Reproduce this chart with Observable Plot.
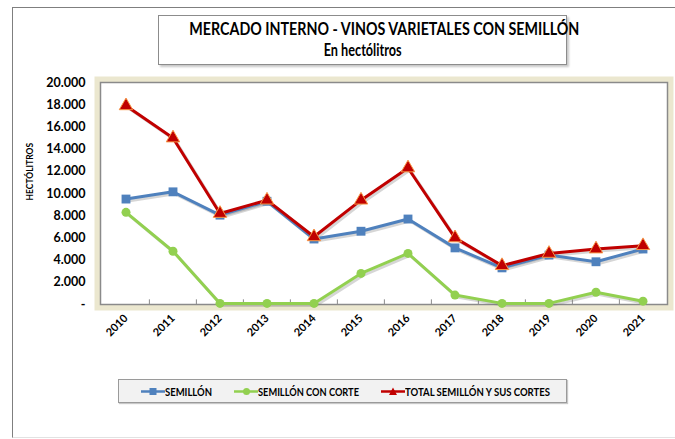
<!DOCTYPE html>
<html><head><meta charset="utf-8">
<script src="https://cdn.jsdelivr.net/npm/d3@7"></script>
<script src="https://cdn.jsdelivr.net/npm/@observablehq/plot@0.6"></script>
<style>
body{margin:0;background:#fff;}
#wrap{position:relative;width:675px;height:439px;overflow:hidden;font-family:Lato, "Open Sans", sans-serif;color:#000;}
#frame{position:absolute;left:12px;top:7px;width:663px;height:429px;border-left:1px solid #7f7f7f;border-top:1px solid #7f7f7f;border-bottom:1px solid #e2e2e2;}
#chart{position:absolute;left:0;top:0;}
#title{position:absolute;left:158px;top:15px;width:407px;height:48px;border:1px solid #8c8c8c;box-shadow:2px 2px 2px #c8c8c8;background:#fff;text-align:center;font-weight:bold;font-size:16.5px;}
.tl{position:absolute;left:0;width:100%;text-align:center;white-space:nowrap;}
.tl span{display:inline-block;transform-origin:center;}
#legend{position:absolute;left:118px;top:379px;width:447px;height:22px;border:1px solid #9a9a9a;background:#f2f2f2;box-shadow:1px 1px 1px #c8c8c8;font-size:12px;font-weight:bold;}
.item{position:absolute;top:0;height:22px;display:flex;align-items:center;white-space:nowrap;}
.item span{display:inline-block;transform-origin:left center;}
</style></head><body>
<div id="wrap">
  <div id="frame"></div>
  <div id="chart"></div>
  <div id="title"></div>
  <div id="legend"></div>
</div>
<script>
const years = ["2010","2011","2012","2013","2014","2015","2016","2017","2018","2019","2020","2021"];
const semillon = [9500, 10150, 8050, 9300, 5900, 6600, 7700, 5100, 3300, 4450, 3850, 5000];
const conCorte = [8300, 4800, 100, 100, 100, 2800, 4600, 850, 100, 100, 1100, 300];
const total = [17900, 15000, 8200, 9400, 6100, 9400, 12300, 6000, 3500, 4600, 5000, 5300];
const yTicks = [0, 2000, 4000, 6000, 8000, 10000, 12000, 14000, 16000, 18000, 20000];
const seriesNames = ["SEMILLÓN", "SEMILLÓN CON CORTE", "TOTAL SEMILLÓN Y SUS CORTES"];
const seriesColors = ["#4F81BD", "#92D050", "#C00000"];
const titleLines = ["MERCADO INTERNO - VINOS VARIETALES CON SEMILLÓN", "En hectólitros"];
const yLabel = "HECTÓLITROS";

const W = 675, H = 439, mL = 100, mR = 8, mT = 82, mB = 135;
const bw = (W - mL - mR) / years.length;
const fmt = d => d === 0 ? "-" : d3.format(",")(d).replace(/,/g, ".");

const rows = (vals) => years.map((y, i) => ({year: y, value: vals[i]}));
const sData = [rows(semillon), rows(conCorte), rows(total)];

const lineMarks = [];
for (const k of [1, 0, 2]) {
  lineMarks.push(Plot.line(sData[k], {x: "year", y: "value", stroke: "#777", strokeOpacity: 0.3, strokeWidth: 3, dx: 2, dy: 2}));
}
lineMarks.push(Plot.line(sData[1], {x: "year", y: "value", stroke: seriesColors[1], strokeWidth: 3}));
lineMarks.push(Plot.dot(sData[1], {x: "year", y: "value", fill: seriesColors[1], r: 4.5}));
lineMarks.push(Plot.line(sData[0], {x: "year", y: "value", stroke: seriesColors[0], strokeWidth: 3}));
lineMarks.push(Plot.dot(sData[0], {x: "year", y: "value", fill: seriesColors[0], symbol: "square", r: 5}));
lineMarks.push(Plot.line(sData[2], {x: "year", y: "value", stroke: seriesColors[2], strokeWidth: 3}));
lineMarks.push(Plot.dot(sData[2], {x: "year", y: "value", fill: seriesColors[2], stroke: "#F79646", strokeWidth: 1, symbol: "triangle", r: 5}));

const chart = Plot.plot({
  width: W, height: H,
  marginLeft: mL, marginRight: mR, marginTop: mT, marginBottom: mB,
  style: {fontFamily: "Lato, 'Open Sans', sans-serif", background: "transparent", overflow: "visible", color: "#000"},
  x: {type: "band", domain: years, padding: 0, label: null},
  y: {domain: [0, 20000], label: null},
  marks: [
    Plot.frame({inset: -3, stroke: "#ebe7cf", strokeWidth: 6}),
    Plot.frame({fill: "white", stroke: "#8a8a8a", strokeWidth: 1.5}),
    Plot.ruleX(years.slice(1), {y1: 0, y2: 420, dx: -bw / 2, stroke: "#8a8a8a", strokeWidth: 1}),
    Plot.axisY({ticks: yTicks, tickSize: 0, tickPadding: 15, tickFormat: fmt, fontWeight: "bold", fontSize: 12.5, fill: "#000"}),
    Plot.axisX({tickSize: 0, tickRotate: -45, tickPadding: 12, fontWeight: "bold", fontSize: 11, fill: "#000"}),
    Plot.text([yLabel], {frameAnchor: "left", dx: -70, dy: 7, rotate: -90, fontWeight: "bold", fontSize: 8.5, fill: "#000"}),
    ...lineMarks
  ]
});
document.getElementById("chart").appendChild(chart);

function fit(span, target) {
  const w = span.getBoundingClientRect().width;
  if (w > 0) span.style.transform = `scaleX(${target / w})`;
}

const titleEl = document.getElementById("title");
const titleTops = [3, 24];
const titleWidths = [390, 78];
titleLines.forEach((t, i) => {
  const d = document.createElement("div");
  d.className = "tl";
  d.style.top = titleTops[i] + "px";
  const s = document.createElement("span");
  s.textContent = t;
  d.appendChild(s);
  titleEl.appendChild(d);
  fit(s, titleWidths[i]);
});

const legendPos = [22, 115, 262];
const legendTextW = [47, 101, 145];
const symbols = [
  `<rect x="8.5" y="2" width="7" height="7" fill="${seriesColors[0]}"/>`,
  `<circle cx="12.5" cy="5.5" r="3.5" fill="${seriesColors[1]}"/>`,
  `<path d="M12 1.5 L16 9 L8 9 Z" fill="${seriesColors[2]}"/>`
];
const legendEl = document.getElementById("legend");
seriesNames.forEach((n, i) => {
  const d = document.createElement("div");
  d.className = "item";
  d.style.left = legendPos[i] + "px";
  d.innerHTML = `<svg width="24" height="11"><line x1="0" x2="24" y1="5.5" y2="5.5" stroke="${seriesColors[i]}" stroke-width="2.5"/>${symbols[i]}</svg><span>${n}</span>`;
  legendEl.appendChild(d);
  fit(d.querySelector("span"), legendTextW[i]);
});
</script>
</body></html>
